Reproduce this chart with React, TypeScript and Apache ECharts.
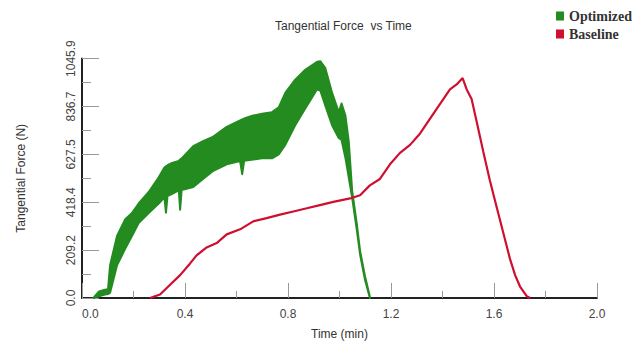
import React, { useEffect, useRef } from "react";
import * as echarts from "echarts";

const titleText = "Tangential Force  vs Time";
const xName = "Time (min)";
const yName = "Tangential Force (N)";
const seriesNames = ["Optimized", "Baseline"];

const xTickLabels = ["0.0", "0.4", "0.8", "1.2", "1.6", "2.0"];
const yTickLabels = ["0.0", "209.2", "418.4", "627.5", "836.7", "1045.9"];

// Optimized: oscillating band, described by its lower and upper envelope
const optTime = [
  0.045, 0.066, 0.089, 0.101, 0.109, 0.136, 0.168, 0.194, 0.22, 0.259, 0.298,
  0.32, 0.326, 0.332, 0.35, 0.376, 0.381, 0.387, 0.432, 0.47, 0.51, 0.562,
  0.614, 0.622, 0.63, 0.665, 0.699, 0.738, 0.764, 0.79, 0.828, 0.867, 0.913,
  0.926, 0.945, 0.971, 0.997, 1.008, 1.023, 1.036, 1.049, 1.067, 1.08, 1.099,
  1.118,
];
const optLow = [
  0, 8, 15, 17, 23, 143, 216, 271, 328, 371, 413, 440, 373, 445, 455, 470, 386,
  472, 485, 520, 556, 584, 598, 541, 600, 605, 610, 610, 627, 670, 755, 828,
  912, 905, 840, 755, 699, 690, 612, 526, 440, 300, 190, 80, 0,
];
const optHigh = [
  2, 29, 36, 38, 143, 271, 344, 371, 413, 463, 527, 570, 575, 580, 590, 599,
  605, 610, 663, 685, 705, 748, 776, 780, 784, 797, 805, 812, 833, 897, 954,
  997, 1032, 1034, 1004, 897, 812, 850, 797, 683, 470, 325, 205, 95, 5,
];

// Baseline
const baseTime = [
  0.264, 0.303, 0.342, 0.381, 0.419, 0.445, 0.484, 0.523, 0.562, 0.614, 0.665,
  0.717, 0.769, 0.821, 0.873, 0.924, 0.976, 1.041, 1.08, 1.118, 1.157, 1.196,
  1.235, 1.274, 1.313, 1.351, 1.39, 1.429, 1.455, 1.478, 1.494, 1.513, 1.533,
  1.558, 1.584, 1.61, 1.636, 1.662, 1.682, 1.701, 1.727, 1.74,
];
const baseForce = [
  0, 15, 58, 100, 150, 186, 221, 240, 278, 300, 335, 349, 364, 378, 392, 406,
  420, 435, 449, 492, 520, 584, 634, 669, 719, 783, 847, 911, 933, 961, 911,
  869, 769, 641, 513, 399, 285, 171, 100, 50, 8, 0,
];

const GREEN = "#248b20";
const RED = "#cf0f30";
const AXIS_FONT = "Liberation Sans";

export default function App() {
  const ref = useRef<HTMLDivElement>(null);

  useEffect(() => {
    if (!ref.current) return;
    const chart = echarts.init(ref.current, null, { renderer: "svg" });
    const xMax = 2;
    const xInterval = xMax / (xTickLabels.length - 1);
    const yMax = parseFloat(yTickLabels[yTickLabels.length - 1]);
    const yInterval = yMax / (yTickLabels.length - 1);

    const bandData = optTime.map((t, i) => [t, optLow[i], optHigh[i]]);

    chart.setOption({
      animation: false,
      backgroundColor: "#ffffff",
      title: {
        text: titleText,
        left: 270,
        top: 15,
        textStyle: {
          fontFamily: AXIS_FONT,
          fontSize: 12,
          fontWeight: "normal",
          color: "#333",
        },
      },
      legend: {
        orient: "vertical",
        left: 551,
        top: 4,
        itemWidth: 8,
        itemHeight: 9,
        itemGap: 4,
        icon: "rect",
        data: seriesNames,
        textStyle: {
          fontFamily: "Liberation Serif",
          fontWeight: "bold",
          fontSize: 14,
          color: "#333",
        },
      },
      grid: { left: 82, right: 47, top: 58.6, bottom: 41.5 },
      xAxis: {
        type: "value",
        min: 0,
        max: xMax,
        interval: xInterval,
        name: xName,
        nameLocation: "middle",
        nameGap: 30,
        nameTextStyle: { fontFamily: AXIS_FONT, fontSize: 12, color: "#333" },
        axisLine: { lineStyle: { color: "#222", width: 2 } },
        axisTick: { inside: true, length: 15, lineStyle: { color: "#999", width: 1 } },
        minorTick: { show: true, splitNumber: 2, length: 7, lineStyle: { color: "#999", width: 1 } },
        splitLine: { show: false },
        axisLabel: {
          margin: 10,
          fontFamily: AXIS_FONT,
          fontSize: 12,
          color: "#444",
          alignMinLabel: "left",
          formatter: (v: number) => xTickLabels[Math.round(v / xInterval)] ?? "",
        },
      },
      yAxis: {
        type: "value",
        min: 0,
        max: yMax,
        interval: yInterval,
        name: yName,
        nameLocation: "middle",
        nameGap: 55,
        nameRotate: 90,
        nameTextStyle: { fontFamily: AXIS_FONT, fontSize: 12, color: "#333" },
        axisLine: { show: true, lineStyle: { color: "#222", width: 2 } },
        axisTick: { show: true, inside: true, length: 17, lineStyle: { color: "#999", width: 1 } },
        minorTick: { show: true, splitNumber: 2, length: 9, lineStyle: { color: "#999", width: 1 } },
        splitLine: { show: false },
        axisLabel: {
          rotate: 90,
          margin: 5,
          align: "center",
          verticalAlign: "bottom",
          fontFamily: AXIS_FONT,
          fontSize: 12,
          color: "#444",
          formatter: (v: number) => yTickLabels[Math.round(v / yInterval)] ?? "",
        },
      },
      series: [
        {
          name: seriesNames[0],
          type: "custom",
          data: bandData,
          encode: { x: 0, y: [1, 2] },
          itemStyle: { color: GREEN },
          z: 2,
          renderItem: (params: any, api: any) => {
            if (params.dataIndex !== 0) return null;
            const upper = bandData.map((d) => api.coord([d[0], d[2]]));
            const lower = bandData.map((d) => api.coord([d[0], d[1]])).reverse();
            return {
              type: "polygon",
              shape: { points: upper.concat(lower) },
              style: {
                fill: GREEN,
                stroke: GREEN,
                lineWidth: 2,
                lineJoin: "round",
              },
            };
          },
        },
        {
          name: seriesNames[1],
          type: "line",
          symbol: "none",
          data: baseTime.map((t, i) => [t, baseForce[i]]),
          lineStyle: { color: RED, width: 2.2 },
          itemStyle: { color: RED },
          z: 3,
        },
      ],
    });
    return () => chart.dispose();
  }, []);

  return (
    <div
      ref={ref}
      style={{ position: "fixed", left: 0, top: 0, width: 644, height: 345, background: "#fff" }}
    />
  );
}
